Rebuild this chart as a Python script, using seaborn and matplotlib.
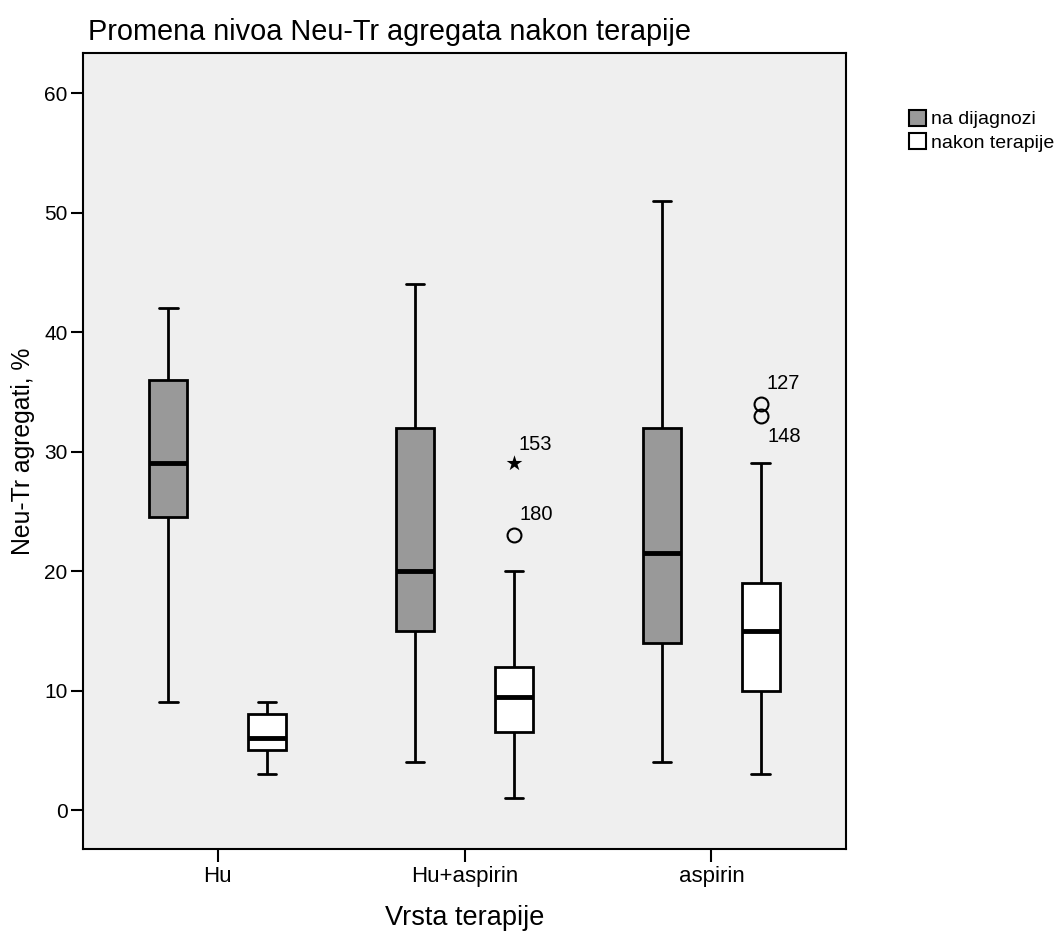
import numpy as np
import pandas as pd
import seaborn as sns
import matplotlib.pyplot as plt
from matplotlib.patches import Patch

# Therapy groups and measurement time points
therapies = ["Hu", "Hu+aspirin", "aspirin"]
timepoints = ["na dijagnozi", "nakon terapije"]

# Five-number summaries (whisker low, Q1, median, Q3, whisker high), one per box
# ordered as therapy x timepoint
box_low = [9, 3, 4, 1, 4, 3]
box_q1 = [24.5, 5, 15, 6.5, 14, 10]
box_median = [29, 6, 20, 9.5, 21.5, 15]
box_q3 = [36, 8, 32, 12, 32, 19]
box_high = [42, 9, 44, 20, 51, 29]

# Outlying cases (circles) and extreme cases (stars) with their case numbers
outlier_therapy = ["Hu+aspirin", "aspirin", "aspirin"]
outlier_time = ["nakon terapije", "nakon terapije", "nakon terapije"]
outlier_value = [23, 34, 33]
outlier_case = ["180", "127", "148"]

extreme_therapy = ["Hu+aspirin"]
extreme_time = ["nakon terapije"]
extreme_value = [29]
extreme_case = ["153"]


def sample_from_summary(lo, q1, med, q3, hi, extra):
    """Small sample whose linear-interpolated quartiles equal the summary."""
    m = len(extra)
    k = m + 1
    return [lo] * k + [q1] * k + [med] * k + [q3] + [hi] * (k - m) + sorted(extra)


rows = []
i = 0
for th in therapies:
    for tp in timepoints:
        extra = [v for t, p, v in zip(outlier_therapy, outlier_time, outlier_value)
                 if t == th and p == tp]
        vals = sample_from_summary(box_low[i], box_q1[i], box_median[i],
                                   box_q3[i], box_high[i], extra)
        rows += [(th, tp, v) for v in vals]
        i += 1
df = pd.DataFrame(rows, columns=["terapija", "vreme", "vrednost"])

sns.set_theme(style="white")
plt.rcParams["font.family"] = ["Liberation Sans", "DejaVu Sans"]
plt.rcParams.update({
    "text.color": "black",
    "axes.labelcolor": "black",
    "xtick.color": "black",
    "ytick.color": "black",
})

fig = plt.figure(figsize=(10.59, 9.36), dpi=100)
ax = fig.add_axes([83 / 1059, 1 - 849 / 936, (846 - 83) / 1059, (849 - 53) / 936])
ax.set_facecolor("#efefef")

palette = {"na dijagnozi": "#999999", "nakon terapije": "#ffffff"}
sns.boxplot(
    data=df, x="terapija", y="vrednost", hue="vreme",
    order=therapies, hue_order=timepoints, palette=palette,
    width=0.8, gap=0.62, whis=1.5, saturation=1, ax=ax,
    linecolor="black", linewidth=2,
    medianprops=dict(color="black", linewidth=3.5),
    flierprops=dict(marker="o", markersize=10, markerfacecolor="none",
                    markeredgecolor="black", markeredgewidth=1.5),
    legend=False,
)

# Extreme cases drawn as stars
offsets = {"na dijagnozi": -0.2, "nakon terapije": 0.2}
ext = pd.DataFrame({
    "pos": [therapies.index(t) + offsets[p] for t, p in zip(extreme_therapy, extreme_time)],
    "vrednost": extreme_value,
})
sns.scatterplot(data=ext, x="pos", y="vrednost", marker="*", s=140,
                color="black", linewidth=0, ax=ax, legend=False, zorder=5)

# Case number labels
for t, p, v, c in zip(extreme_therapy, extreme_time, extreme_value, extreme_case):
    ax.annotate(c, (therapies.index(t) + offsets[p], v), xytext=(3, 7),
                textcoords="offset points", fontsize=14.5, ha="left", va="bottom")
for t, p, v, c in zip(outlier_therapy, outlier_time, outlier_value, outlier_case):
    x = therapies.index(t) + offsets[p]
    if c == "148":
        ax.annotate(c, (x, v), xytext=(5, -8), textcoords="offset points",
                    fontsize=14.5, ha="left", va="top")
    else:
        ax.annotate(c, (x, v), xytext=(4, 8), textcoords="offset points",
                    fontsize=14.5, ha="left", va="bottom")

ax.set_xlim(-0.545, 2.545)
ax.set_ylim(-3.26, 63.35)
ax.set_yticks([0, 10, 20, 30, 40, 50, 60])
ax.tick_params(axis="both", which="both", direction="out", length=9, width=1.5,
               color="black", labelsize=15, left=True, bottom=True)
ax.tick_params(axis="y", pad=2)
ax.tick_params(axis="x", labelsize=16)
for sp in ax.spines.values():
    sp.set_color("black")
    sp.set_linewidth(1.5)

ax.set_xlabel("Vrsta terapije", fontsize=19.5, labelpad=13)
ax.set_ylabel("Neu-Tr agregati, %", fontsize=17.8, labelpad=7)
fig.text(88 / 1059, 1 - 32 / 936, "Promena nivoa Neu-Tr agregata nakon terapije",
         fontsize=20.8, ha="left", va="center")

handles = [Patch(facecolor=palette[t], edgecolor="black", linewidth=1.5, label=t)
           for t in timepoints]
fig.legend(handles=handles, loc="upper left", bbox_to_anchor=(909 / 1059, 1 - 110 / 936),
           frameon=False, fontsize=14, handlelength=0.85, handleheight=0.85,
           handletextpad=0.3, labelspacing=0.25, borderaxespad=0, borderpad=0)

fig.savefig("out.png", dpi=100)
